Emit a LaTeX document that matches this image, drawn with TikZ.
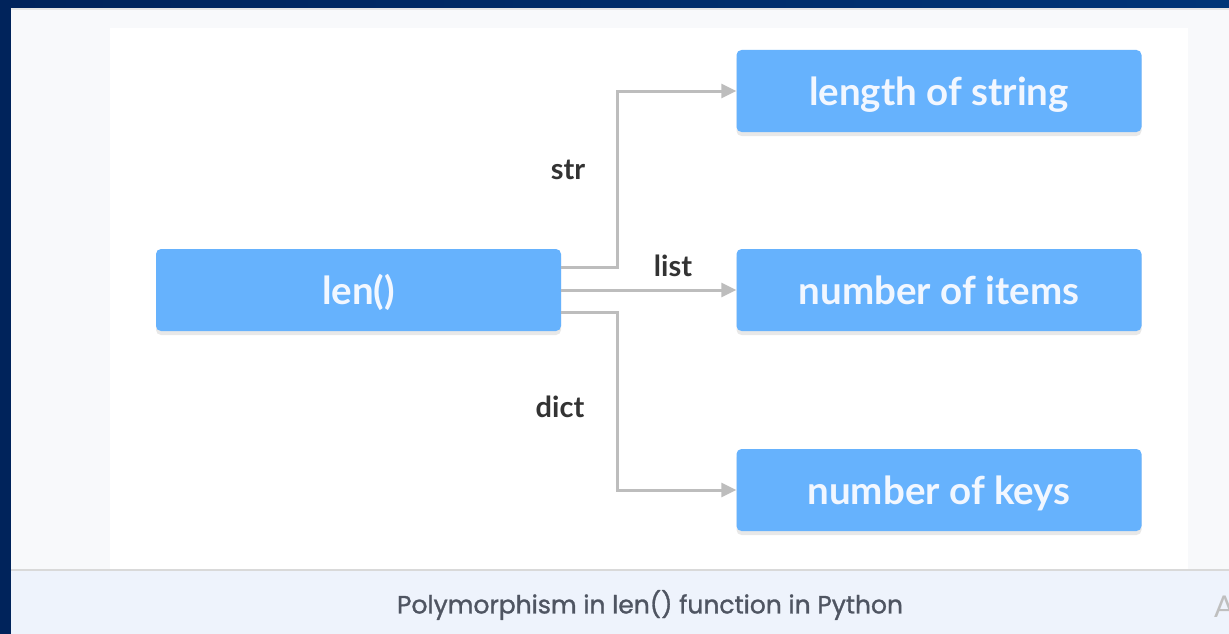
\documentclass[tikz,border=0pt]{standalone}
\usepackage{fontspec}
\setmainfont{Lato}
\newfontfamily\capfont[FakeBold=1.2]{Poppins}
\usetikzlibrary{arrows.meta,shadows,positioning}

\definecolor{navyL}{HTML}{00235B}
\definecolor{navyR}{HTML}{003577}
\definecolor{panel}{HTML}{F8F9FB}
\definecolor{capbg}{HTML}{EEF3FC}
\definecolor{boxblue}{HTML}{66B2FD}
\definecolor{boxtext}{HTML}{F2F7FF}
\definecolor{linkgray}{HTML}{BDBDBD}
\definecolor{labelgray}{HTML}{333333}
\definecolor{captext}{HTML}{4F5562}

\tikzset{
  x=1pt, y=-1pt,
  blockbox/.style={
    draw=none, fill=boxblue, rounded corners=5pt,
    minimum width=405pt, minimum height=82pt, inner sep=0pt,
    text height=34pt, text depth=5pt,
    text=boxtext, font=\fontsize{38.5}{44}\selectfont\bfseries,
    drop shadow={opacity=0.18, shadow xshift=0pt, shadow yshift=-4pt}
  },
  typelabel/.style={text=labelgray, font=\fontsize{29}{33}\selectfont\bfseries, inner sep=0pt},
  link/.style={draw=linkgray, line width=3pt},
  linkarrow/.style={link, -{Triangle[length=15pt, width=14pt]}}
}

\begin{document}
\begin{tikzpicture}
  % frame and page background
  \useasboundingbox (0,0) rectangle (1229,634);
  \shade[left color=navyL, right color=navyR] (0,0) rectangle (1229,634);
  \fill[panel] (11,8) rectangle (1229,634);
  \fill[white] (110,28) rectangle (1188,570);
  \draw[line width=2pt, draw=black!10] (11,9.5) -- (1229,9.5);
  % caption strip
  \fill[capbg] (11,570) rectangle (1229,634);
  \draw[line width=1.2pt, draw=black!15] (11,570) -- (1229,570);
  \node[text=captext, font=\capfont\fontsize{25}{29}\selectfont, inner sep=0pt] (caption) at (650,605) {Polymorphism in len() function in Python};
  \begin{scope}
    \clip (1200,580) rectangle (1229,634);
    \node[text=black!25, font=\fontsize{30}{34}\selectfont, anchor=west, inner sep=0pt] (mark) at (1214,607) {A};
  \end{scope}

  % blocks
  \node[blockbox] (len) at (358.5,290) {len()};
  \node[blockbox] (str) at (939,91) {length of string};
  \node[blockbox] (lst) at (939,290) {number of items};
  \node[blockbox] (dct) at (939,490) {number of keys};

  % connectors
  \coordinate (jx) at (617,0);
  \draw[linkarrow] ([yshift=23pt]len.east) -| (jx |- str.west) -- (str.west);
  \draw[linkarrow] (len.east) -- (lst.west);
  \draw[linkarrow] ([yshift=-22pt]len.east) -| (jx |- dct.west) -- (dct.west);

  % type labels
  \node[typelabel] (lstr) at (568,170) {str};
  \node[typelabel] (llist) at (673,266) {list};
  \node[typelabel] (ldict) at (560,407) {dict};
\end{tikzpicture}
\end{document}
